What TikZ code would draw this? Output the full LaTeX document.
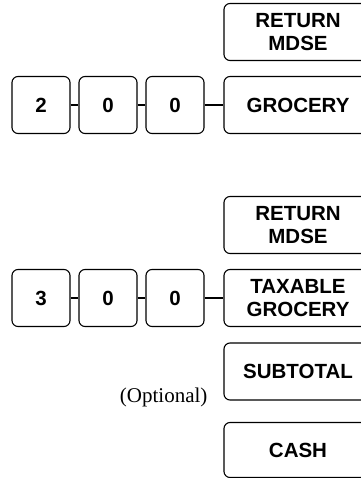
\documentclass[tikz,border=0pt]{standalone}
\usepackage{fontspec}
\setmainfont{Liberation Serif}
\setsansfont{Liberation Sans}

\tikzset{
    key/.style={draw, line width=1.1pt, rounded corners=6pt, align=center, inner sep=0pt,
        minimum height=57pt, font=\sffamily\bfseries\fontsize{20.5}{23}\selectfont},
    numkey/.style={key, minimum width=58pt},
    funckey/.style={key, minimum width=148pt}
}

\begin{document}
\begin{tikzpicture}[x=1pt, y=-1pt]
    \useasboundingbox (0,0) rectangle (360,478);
    % first entry
    \node[funckey] (ret1) at (298,32) {RETURN\\MDSE};
    \node[numkey] (a1) at (41,105) {2};
    \node[numkey] (a2) at (108,105) {0};
    \node[numkey] (a3) at (175,105) {0};
    \node[funckey] (groc) at (298,105) {GROCERY};
    \draw[line width=1.1pt] (a1)--(a2) (a2)--(a3) (a3)--(groc);
    % second entry
    \node[funckey] (ret2) at (298,225) {RETURN\\MDSE};
    \node[numkey] (b1) at (41,298) {3};
    \node[numkey] (b2) at (108,298) {0};
    \node[numkey] (b3) at (175,298) {0};
    \node[funckey] (tax) at (298,298) {TAXABLE\\GROCERY};
    \draw[line width=1.1pt] (b1)--(b2) (b2)--(b3) (b3)--(tax);
    \node[funckey] (sub) at (298,371.5) {SUBTOTAL};
    \node[anchor=east, font=\fontsize{21}{24}\selectfont] (opt) at (211,397) {(Optional)};
    \node[funckey, minimum height=55pt] (cash) at (298,450) {CASH};
\end{tikzpicture}
\end{document}
